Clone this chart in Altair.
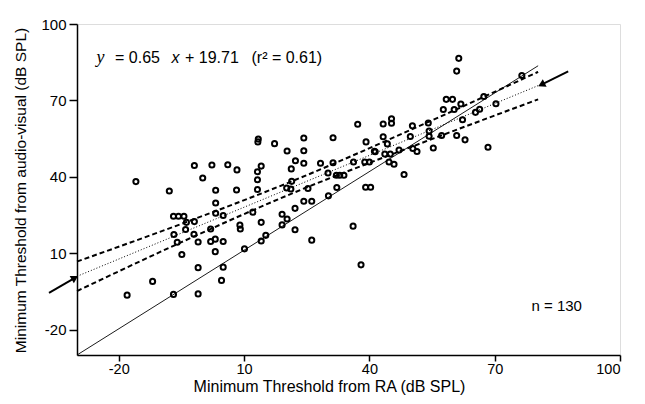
import altair as alt
import pandas as pd

# ---- data ----
pt_x = [-15.9, -7.9, -1.9, 2.3, 6.1, 0.1, 3.2, 8.2, 8.3, 3.2,
        -6.9, -5.7, -4.4, 3.2, 5.0, -3.8, -1.9, -4.0, -6.8, -2.0,
        2.0, -6.0, -1.0, 2.0, 3.1, 5.0, -4.9, 3.1, -1.0, 5.0,
        4.6, -11.9, -18.0, -6.9, -1.0, 9.0, 9.1, 10.1,
        13.4, 13.3, 17.3, 20.3, 24.3, 24.3, 22.3, 24.3, 28.3, 31.3,
        31.3, 37.2, 39.2, 36.2, 38.9, 40.0, 41.2, 14.1, 13.2, 13.2,
        21.3, 13.2, 20.2, 21.2, 21.4, 25.3, 30.1, 32.1, 32.9, 33.9,
        32.2, 39.1, 40.3, 24.3, 26.2, 30.2, 22.2, 12.1, 14.1, 19.1,
        20.3, 19.1, 22.2, 15.2, 14.1, 26.2, 36.1, 38.0,
        41.4, 43.7, 45.0, 47.1, 51.4, 50.4, 55.3, 44.7, 45.9, 48.3,
        43.3, 45.3, 45.3, 50.3, 54.1, 43.3, 49.8, 54.3, 54.3, 44.3,
        57.3, 60.9, 62.9, 68.4, 58.4, 59.9, 57.7, 60.3, 61.9, 65.4,
        66.4, 62.3, 67.4, 70.3, 61.4, 60.9, 76.5]
pt_y = [38.1, 34.4, 44.4, 44.6, 44.7, 39.5, 34.7, 34.8, 42.7, 29.7,
        24.5, 24.5, 24.5, 25.7, 24.8, 22.1, 22.4, 19.3, 17.3, 17.4,
        19.5, 14.3, 14.4, 14.6, 15.5, 14.6, 9.5, 10.6, 4.3, 4.5,
        -0.7, -1.1, -6.5, -6.2, -6.0, 21.0, 19.5, 11.7,
        54.8, 53.7, 53.0, 50.1, 55.2, 50.2, 46.3, 45.3, 45.3, 55.3,
        45.5, 60.6, 53.7, 45.8, 45.8, 45.8, 50.0, 44.2, 42.0, 38.8,
        43.1, 35.0, 35.6, 35.2, 38.2, 35.4, 41.5, 40.6, 40.6, 40.6,
        35.8, 35.9, 35.9, 30.4, 30.4, 32.5, 27.6, 26.1, 22.1, 25.3,
        23.4, 21.1, 19.2, 17.0, 14.8, 15.1, 20.6, 5.4,
        49.8, 48.9, 48.9, 50.5, 49.9, 51.1, 51.3, 45.8, 44.9, 40.9,
        60.7, 62.8, 61.0, 60.0, 61.1, 55.7, 55.8, 58.0, 55.9, 52.9,
        56.2, 56.2, 54.5, 51.6, 70.4, 70.4, 66.4, 66.4, 68.6, 65.3,
        66.5, 62.4, 71.5, 68.7, 86.5, 81.5, 79.8]

# identity line (solid)
id_x = [-30, 80.4]
id_y = [-30, 83.6]
# regression line (dotted)
reg_x = [-30, 80.4]
reg_y = [0.9, 75.8]
# confidence bands (dashed)
band_x = [-30, -5, 22, 50, 80.4]
band_hi = [6.7, 21.5, 38.6, 58.5, 81.2]
band_lo = [-4.9, 14.3, 33.8, 51.7, 70.4]
# arrows: tail -> head
arr_x = [-36.7, 87.6]
arr_y = [-5.6, 81.4]
arr_x2 = [-30.5, 81.2]
arr_y2 = [0.3, 76.2]
arr_angle = [60, 243]

ticks = [-20, 10, 40, 70, 100]
FONT = "Liberation Sans"

xs = alt.Scale(domain=[-30, 100], nice=False, zero=False)
ys = alt.Scale(domain=[-30, 100], nice=False, zero=False)

xaxis = alt.Axis(values=ticks, title="Minimum Threshold from RA (dB SPL)", grid=False,
                 labelExpr="'' + datum.value", tickSize=6, tickWidth=1.5, domainWidth=1.5,
                 domainColor="black", tickColor="black", labelColor="black", labelFont=FONT,
                 labelFontSize=14.5, labelPadding=1, titleFont=FONT, titleFontSize=16,
                 titleFontWeight="normal", titleColor="black", titleX=252, titleY=31,
                 titleBaseline="middle", titleAnchor="middle")
yaxis = alt.Axis(values=ticks, title="Minimum Threshold from audio-visual (dB SPL)", grid=False,
                 labelExpr="'' + datum.value", tickSize=8, tickWidth=1.5, domainWidth=1.5,
                 domainColor="black", tickColor="black", labelColor="black", labelFont=FONT,
                 labelFontSize=15, labelPadding=3, titleFont=FONT, titleFontSize=15.5,
                 titleFontWeight="normal", titleColor="black", titleX=-57, titleY=166,
                 titleAngle=-90, titleBaseline="middle", titleAlign="center")

pts = pd.DataFrame({"x": pt_x, "y": pt_y})
points = alt.Chart(pts).mark_point(shape="circle", filled=False, color="black",
                                   strokeWidth=2, size=26, opacity=1).encode(
    x=alt.X("x:Q", scale=xs, axis=xaxis),
    y=alt.Y("y:Q", scale=ys, axis=yaxis),
)

ident = alt.Chart(pd.DataFrame({"x": id_x, "y": id_y})).mark_line(
    color="black", strokeWidth=0.9).encode(x=alt.X("x:Q", scale=xs), y=alt.Y("y:Q", scale=ys))

reg = alt.Chart(pd.DataFrame({"x": reg_x, "y": reg_y})).mark_line(
    color="black", strokeWidth=1, strokeDash=[1, 2]).encode(
    x=alt.X("x:Q", scale=xs), y=alt.Y("y:Q", scale=ys))

hi = alt.Chart(pd.DataFrame({"x": band_x, "y": band_hi})).mark_line(
    color="black", strokeWidth=2, strokeDash=[5, 3], interpolate="monotone").encode(
    x=alt.X("x:Q", scale=xs), y=alt.Y("y:Q", scale=ys))
lo = alt.Chart(pd.DataFrame({"x": band_x, "y": band_lo})).mark_line(
    color="black", strokeWidth=2, strokeDash=[5, 3], interpolate="monotone").encode(
    x=alt.X("x:Q", scale=xs), y=alt.Y("y:Q", scale=ys))

arr_df = pd.DataFrame({"x": arr_x, "y": arr_y, "x2": arr_x2, "y2": arr_y2, "a": arr_angle})
arr_lines = alt.Chart(arr_df).mark_rule(color="black", strokeWidth=2).encode(
    x=alt.X("x:Q", scale=xs), y=alt.Y("y:Q", scale=ys), x2="x2:Q", y2="y2:Q")
arr_heads = alt.Chart(arr_df).mark_point(shape="triangle-up", filled=True, color="black",
                                         size=70, opacity=1).encode(
    x=alt.X("x2:Q", scale=xs), y=alt.Y("y2:Q", scale=ys), angle=alt.Angle("a:Q", scale=None))

def txt(s, x, y, size=16, style="normal", font=FONT):
    return alt.Chart(pd.DataFrame({"t": [s]})).mark_text(
        align="left", baseline="alphabetic", fontSize=size, fontStyle=style, font=font,
        color="black").encode(x=alt.value(x), y=alt.value(y), text="t:N")

eq = (txt("y", 19.5, 39, 18, "italic", "Liberation Serif")
      + txt("= 0.65", 38, 39)
      + txt("x", 94.5, 39, 16, "italic")
      + txt("+ 19.71", 108, 39)
      + txt("(r² = 0.61)", 174.5, 39)
      + txt("n = 130", 454.5, 287, 15))

chart = alt.layer(points, ident, reg, hi, lo, arr_lines, arr_heads, eq).properties(
    width=543, height=331,
    autosize=alt.AutoSizeParams(type="none"),
    padding={"left": 69, "top": 16, "right": 15, "bottom": 40},
).configure_view(stroke=None).configure(background="white")

chart.save("out.html", embed_options={"renderer": "svg", "actions": False})
